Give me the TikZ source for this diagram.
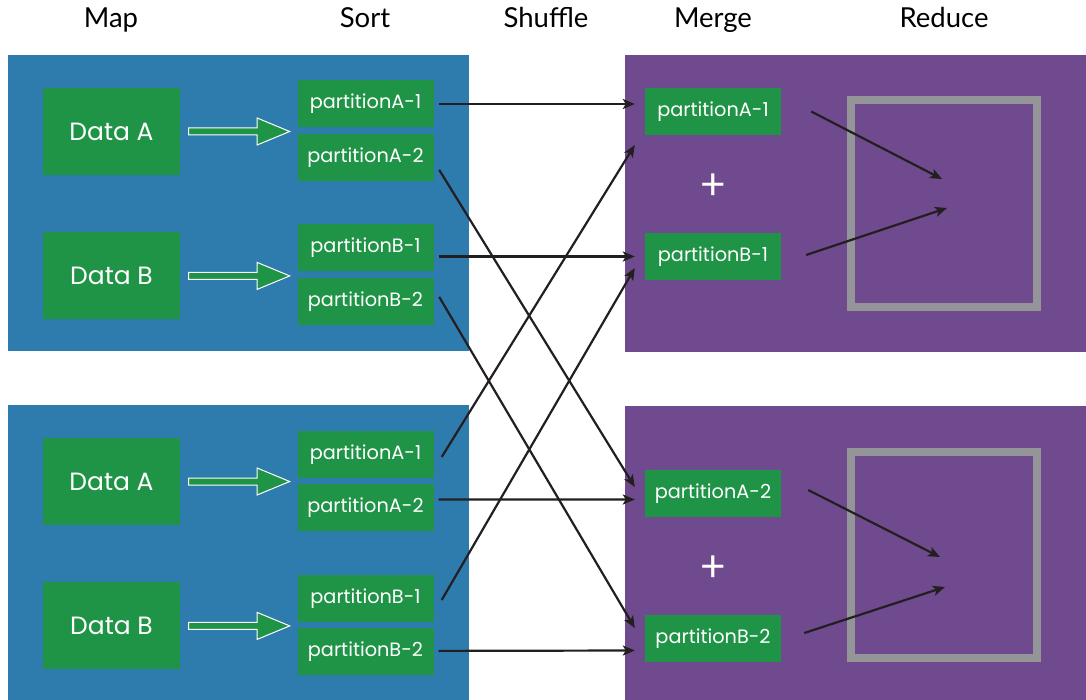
\documentclass[tikz,border=0pt]{standalone}
\usepackage{fontspec}
\setmainfont{Poppins}
\newfontfamily\headfont{Lato}
\usetikzlibrary{arrows.meta,shapes.arrows,positioning}

\definecolor{mapblue}{RGB}{46,123,174}
\definecolor{redpurple}{RGB}{111,74,142}
\definecolor{partgreen}{RGB}{31,148,70}
\definecolor{framegrey}{RGB}{147,149,152}
\definecolor{linkblack}{RGB}{35,31,32}

\begin{document}
\begin{tikzpicture}
 [x=1pt,y=-1pt,
 data/.style={
  rectangle,
  fill=partgreen,
  minimum width=137pt,
  minimum height=87pt,
  inner sep=0pt,
  text=white,
  font=\fontsize{25}{30}\selectfont},
 part/.style={
  rectangle,
  fill=partgreen,
  minimum width=136pt,
  minimum height=47pt,
  inner sep=0pt,
  text=white,
  font=\fontsize{19.3}{23}\selectfont},
 fat/.style={
  single arrow,
  draw=white, % outline
  line width=1pt,
  fill=partgreen,
  minimum height=101pt,
  minimum width=26pt,
  single arrow head extend=10pt,
  single arrow tip angle=45,
  inner xsep=0pt, inner ysep=3pt},
 head/.style={font=\headfont\fontsize{27.5}{33}\selectfont, anchor=base},
 plus/.style={text=white, font=\headfont\fontsize{44}{44}\selectfont},
 tip/.style={-{Stealth[length=12pt,width=10pt,inset=3pt]}, line width=2.2pt, draw=linkblack}]
\useasboundingbox (0,0) rectangle (1086,700);
% panels
\fill[mapblue] (8,55) rectangle (469,351);
\fill[mapblue] (8,405) rectangle (469,700);
\fill[redpurple] (625,55) rectangle (1086,352);
\fill[redpurple] (625,406) rectangle (1086,700);
\draw[framegrey, line width=8pt] (851,100) rectangle (1037,307);
\draw[framegrey, line width=8pt] (851,452) rectangle (1037,658);
% column titles
\node (map) [head] at (111,28) {Map};
\node (sort) [head] at (365,28) {Sort};
\node (shuffle) [head] at (546,28) {Shuffle};
\node (merge) [head] at (713,28) {Merge};
\node (reduce) [head] at (944,28) {Reduce};
% map side
\node (dA1) [data] at (111.5,131.5) {Data A};
\node (dB1) [data, below=57pt of dA1] {Data B};
\node (dA2) [data] at (111.5,481.5) {Data A};
\node (dB2) [data, below=57pt of dA2] {Data B};
\node (tA1) [part] at (365.5,104) {partitionA-1};
\node (tA2) [part, below=6pt of tA1] {partitionA-2};
\node (tB1) [part] at (365.5,248) {partitionB-1};
\node (tB2) [part, below=6pt of tB1] {partitionB-2};
\node (bA1) [part] at (365.5,454.5) {partitionA-1};
\node (bA2) [part, below=6pt of bA1] {partitionA-2};
\node (bB1) [part] at (365.5,598.5) {partitionB-1};
\node (bB2) [part, below=6pt of bB1] {partitionB-2};
\node (fA1) [fat, right=8pt of dA1] {};
\node (fB1) [fat, right=8pt of dB1] {};
\node (fA2) [fat, right=8pt of dA2] {};
\node (fB2) [fat, right=8pt of dB2] {};
% reduce side
\node (mA1) [part] at (713,111.5) {partitionA-1};
\node (mB1) [part] at (713,256.5) {partitionB-1};
\node (mA2) [part] at (713,493.5) {partitionA-2};
\node (mB2) [part] at (713,638.5) {partitionB-2};
\node (plus1) [plus] at (713,187) {+};
\node (plus2) [plus] at (713,569) {+};
\coordinate (sumA1) at (942,179);
\coordinate (sumB1) at (947,208);
\coordinate (sumA2) at (940,557);
\coordinate (sumB2) at (945,587);
% shuffle
\draw[tip] ([xshift=5.5pt]tA1.east) -- ([xshift=-10pt,yshift=7.5pt]mA1.west);
\draw[tip] ([xshift=5.5pt,yshift=-12.5pt]tA2.east) -- ([xshift=-10pt,yshift=6.5pt]mA2.west);
\draw[tip] ([xshift=5.5pt,yshift=-8.5pt]tB1.east) -- ([xshift=-10pt]mB1.west);
\draw[tip] ([xshift=5.5pt,yshift=4.5pt]tB2.east) -- ([xshift=-10pt,yshift=10.5pt]mB2.west);
\draw[tip] ([xshift=8pt,yshift=-2.5pt]bA1.east) -- ([xshift=-10pt,yshift=-33.5pt]mA1.west);
\draw[tip] ([xshift=5pt,yshift=8.5pt]bA2.east) -- ([xshift=-10pt,yshift=-6pt]mA2.west);
\draw[tip] ([xshift=8pt,yshift=-1.5pt]bB1.east) -- ([xshift=-10pt,yshift=-11.5pt]mB1.west);
\draw[tip] ([xshift=5pt,yshift=1pt]bB2.east) -- ([xshift=-10pt,yshift=-12pt]mB2.west);
% into reduce
\draw[tip] ([xshift=30pt]mA1.east) -- (sumA1);
\draw[tip] ([xshift=25pt,yshift=1.5pt]mB1.east) -- (sumB1);
\draw[tip] ([xshift=27pt,yshift=3.5pt]mA2.east) -- (sumA2);
\draw[tip] ([xshift=23pt,yshift=5.5pt]mB2.east) -- (sumB2);
\end{tikzpicture}
\end{document}
